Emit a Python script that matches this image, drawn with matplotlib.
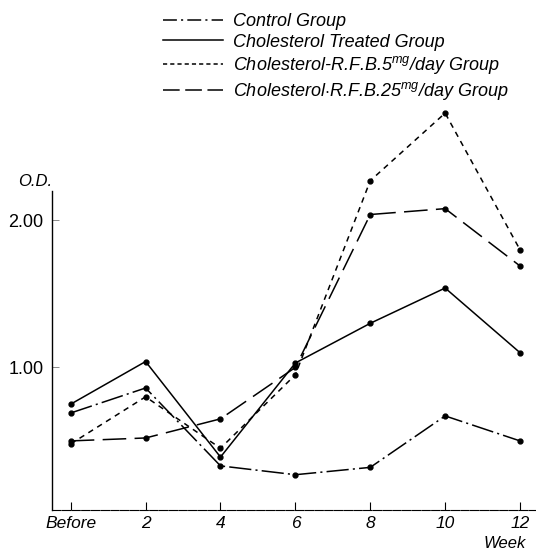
import matplotlib
matplotlib.use('Agg')
import matplotlib.pyplot as plt
from matplotlib.lines import Line2D

# data (O.D. values)
weeks = ['Before', '2', '4', '6', '8', '10', '12']
control = [0.69, 0.86, 0.33, 0.27, 0.32, 0.67, 0.50]
chol_treated = [0.75, 1.04, 0.39, 1.03, 1.30, 1.54, 1.10]
rfb_5 = [0.48, 0.80, 0.45, 0.95, 2.27, 2.73, 1.80]
rfb_25 = [0.50, 0.52, 0.65, 1.00, 2.04, 2.08, 1.69]

labels = ['Control Group',
          'Cholesterol Treated Group',
          r'Cholesterol-R.F.B.5$^{\mathit{mg}}$/day Group',
          r'Cholesterol$\cdot$R.F.B.25$^{\mathit{mg}}$/day Group']

font = 'Liberation Sans'
plt.rcParams['font.family'] = [font, 'DejaVu Sans']
plt.rcParams['mathtext.fontset'] = 'custom'
plt.rcParams['mathtext.it'] = font + ':italic'
plt.rcParams['mathtext.rm'] = font
plt.rcParams['lines.scale_dashes'] = False

fig = plt.figure(figsize=(5.36, 5.56), dpi=100)
ax = fig.add_axes([52/536, 46/556, 483/536, 319/556])

x = list(range(len(weeks)))
styles = [(0, (16, 3, 1.5, 3)), '-', (0, (4, 3.5)), (0, (17, 6))]
for ys, ls in zip([control, chol_treated, rfb_5, rfb_25], styles):
    ax.plot(x, ys, color='black', linestyle=ls, linewidth=1.1,
            marker='o', markersize=3.5, clip_on=False)

ax.set_xlim(-0.25, 6.2)
ax.set_ylim(0.03, 2.2)
ax.set_xticks(x)
ax.set_xticklabels(weeks, fontsize=12.5, style='italic')
ax.set_yticks([1.0, 2.0])
ax.set_yticklabels(['1.00', '2.00'], fontsize=13)
ax.tick_params(axis='x', direction='in', length=6, width=0.8, pad=4)
ax.tick_params(axis='y', direction='in', length=5, width=0.6, color='#777777', pad=6)

for s in ['top', 'right']:
    ax.spines[s].set_visible(False)
ax.spines['left'].set_linewidth(1.0)
ax.spines['bottom'].set_linewidth(0.8)
ax.spines['bottom'].set_linestyle((0, (6, 1)))

fig.text(505/536, 1 - 543/556, 'Week', fontsize=12, style='italic',
         ha='center', va='center')
fig.text(35/536, 1 - 182/556, 'O.D.', fontsize=12, style='italic',
         ha='center', va='center')

handle_styles = [(0, (10, 3, 1.5, 3)), '-', (0, (3, 2.2)), (0, (12, 4))]
handles = [Line2D([], [], color='black', linestyle=ls, linewidth=1.1)
           for ls in handle_styles]
leg = fig.legend(handles, labels, loc='upper left',
                 bbox_to_anchor=(163/536, 1 - 13/556), frameon=False,
                 prop={'size': 13, 'style': 'italic'}, handlelength=3.3,
                 handletextpad=0.55, labelspacing=0.2, borderaxespad=0,
                 borderpad=0)

fig.savefig('out.png', dpi=100)
